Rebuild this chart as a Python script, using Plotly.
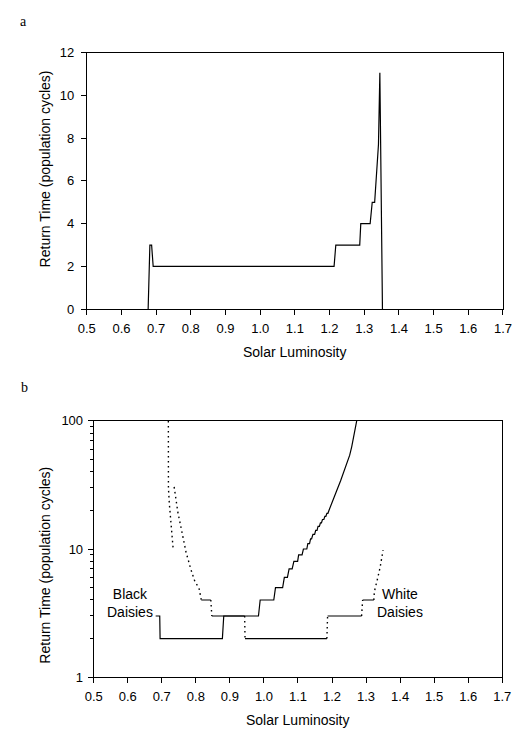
import plotly.graph_objects as go

W, H = 526, 738

# ---------------- Panel a : return time of the whole system ----------------
a_lum = [0.677, 0.682, 0.687, 0.6915, 1.213, 1.218, 1.287, 1.290, 1.317, 1.323,
         1.330, 1.341, 1.345, 1.3525]
a_ret = [0, 3, 3, 2, 2, 3, 3, 4, 4, 5, 5, 7.7, 11.05, 0]

# ---------------- Panel b : black daisies (solid) ----------------
black_lum = [0.682, 0.694, 0.695, 0.878, 0.882, 0.984, 0.989, 1.029, 1.034, 1.055,
             1.060, 1.069, 1.074, 1.083, 1.088, 1.099, 1.102, 1.112, 1.116, 1.126,
             1.129, 1.134, 1.137, 1.140, 1.144, 1.149, 1.152, 1.156, 1.159, 1.163,
             1.166, 1.169, 1.172, 1.176, 1.179, 1.182, 1.185, 1.188, 1.191, 1.194,
             1.199, 1.206, 1.216, 1.225, 1.235, 1.244, 1.252, 1.258, 1.264, 1.269,
             1.2725]
black_ret = [3, 3, 2, 2, 3, 3, 4, 4, 5, 5,
             6, 6, 7, 7, 8, 8, 9, 9, 10, 10,
             11, 11, 12, 12, 13, 13, 14, 14, 15, 15,
             16, 16, 17, 17, 18, 18, 19, 19, 20, 21,
             23, 26, 29.5, 34, 40, 46, 54, 63, 75, 88,
             100]

# ---------------- Panel b : white daisies ----------------
# rapidly changing parts (drawn dotted)
white_rise1_lum = [0.7193, 0.7195, 0.7221, 0.7259, 0.7287, 0.7335]
white_rise1_ret = [100, 30, 22.7, 17, 13.4, 10]
white_rise2_lum = [0.7363, 0.741, 0.7477, 0.757, 0.771, 0.785, 0.798, 0.809, 0.816]
white_rise2_ret = [30.5, 24, 19, 14.5, 9.5, 7.0, 5.5, 5.0, 4.0]
white_jumps_lum = [[0.844, 0.847], [0.9434, 0.9445], [1.185, 1.187],
                   [1.287, 1.290], [1.323, 1.3245, 1.334, 1.3414, 1.350]]
white_jumps_ret = [[4, 3], [3, 2], [2, 3], [3, 4], [4, 4.65, 5.9, 7.2, 9.8]]
# plateaus (drawn solid)
white_flat_lum = [[0.816, 0.844], [0.847, 0.9434], [0.9445, 1.185],
                  [1.187, 1.287], [1.290, 1.323]]
white_flat_ret = [[4, 4], [3, 3], [2, 2], [3, 3], [4, 4]]

x_ticks = [0.5, 0.6, 0.7, 0.8, 0.9, 1.0, 1.1, 1.2, 1.3, 1.4, 1.5, 1.6, 1.7]
ya_ticks = [0, 2, 4, 6, 8, 10, 12]
yb_ticks = [1, 10, 100]
yb_minor = [2, 3, 4, 5, 6, 7, 8, 9, 20, 30, 40, 50, 60, 70, 80, 90]


def join(seg_x, seg_y):
    xs, ys = [], []
    for sx, sy in zip(seg_x, seg_y):
        xs += list(sx) + [None]
        ys += list(sy) + [None]
    return xs, ys


fig = go.Figure()
LW = 1.2
fig.add_trace(go.Scatter(x=a_lum, y=a_ret, mode="lines",
                         line=dict(color="black", width=LW),
                         xaxis="x", yaxis="y", showlegend=False))
fig.add_trace(go.Scatter(x=black_lum, y=black_ret, mode="lines",
                         line=dict(color="black", width=LW),
                         xaxis="x2", yaxis="y2", showlegend=False))
fx, fy = join(white_flat_lum, white_flat_ret)
fig.add_trace(go.Scatter(x=fx, y=fy, mode="lines",
                         line=dict(color="black", width=LW),
                         xaxis="x2", yaxis="y2", showlegend=False))
dx, dy = join([white_rise1_lum, white_rise2_lum] + white_jumps_lum,
              [white_rise1_ret, white_rise2_ret] + white_jumps_ret)
fig.add_trace(go.Scatter(x=dx, y=dy, mode="lines",
                         line=dict(color="black", width=1.4, dash="1.6px,3.4px"),
                         xaxis="x2", yaxis="y2", showlegend=False))

FONT = "Liberation Sans, Arial, Helvetica, sans-serif"
tickfont = dict(family=FONT, size=13, color="black")
common = dict(showline=True, linecolor="black", linewidth=1, mirror=True,
              ticks="outside", tickcolor="black", tickwidth=1, ticklen=5,
              showgrid=False, zeroline=False, tickfont=tickfont)


def px_x(p):
    return p / W


def px_y(p):
    return 1 - p / H


fig.update_layout(
    width=W, height=H,
    margin=dict(l=0, r=0, t=0, b=0),
    paper_bgcolor="white", plot_bgcolor="white",
    xaxis=dict(domain=[px_x(80.5), px_x(511.5)], range=[0.5, 1.7], anchor="y",
               tickvals=x_ticks, tickformat=".1f", ticklabelstandoff=2, **common),
    yaxis=dict(domain=[px_y(308.5), px_y(46.5)], range=[0, 12], anchor="x",
               tickvals=ya_ticks, ticklabelstandoff=4, **common),
    xaxis2=dict(domain=[px_x(87.7), px_x(510.7)], range=[0.5, 1.7], anchor="y2",
                tickvals=x_ticks, tickformat=".1f", ticklabelstandoff=2, **common),
    yaxis2=dict(domain=[px_y(684), px_y(422.5)], type="log", range=[0, 2],
                anchor="x2", tickvals=yb_ticks, ticktext=["1", "10", "100"],
                minor=dict(tickmode="array", tickvals=yb_minor, ticks="outside",
                           ticklen=3, tickcolor="black", showgrid=False),
                ticklabelstandoff=2, **common),
)

ann_font = dict(family=FONT, size=14, color="black")
serif = dict(family="Liberation Serif, Times New Roman, serif", size=14, color="black")
annotations = [
    dict(text="a", x=px_x(15), y=px_y(15), font=serif),
    dict(text="b", x=px_x(16), y=px_y(388), font=serif),
    dict(text="Return Time (population cycles)", x=px_x(37), y=px_y(165),
         textangle=-90, font=ann_font),
    dict(text="Return Time (population cycles)", x=px_x(37.5), y=px_y(570),
         textangle=-90, font=ann_font),
    dict(text="Solar Luminosity", x=px_x(296), y=px_y(352), font=ann_font),
    dict(text="Solar Luminosity", x=px_x(299), y=px_y(728), font=ann_font),
    dict(text="Black<br>Daisies", x=px_x(125), y=px_y(608), font=ann_font, align="center"),
    dict(text="White<br>Daisies", x=px_x(405), y=px_y(608.5), font=ann_font, align="center"),
]
for an in annotations:
    an.update(xref="paper", yref="paper", showarrow=False,
              xanchor="center", yanchor="middle")
fig.update_layout(annotations=annotations)

fig.write_html("out.html")
